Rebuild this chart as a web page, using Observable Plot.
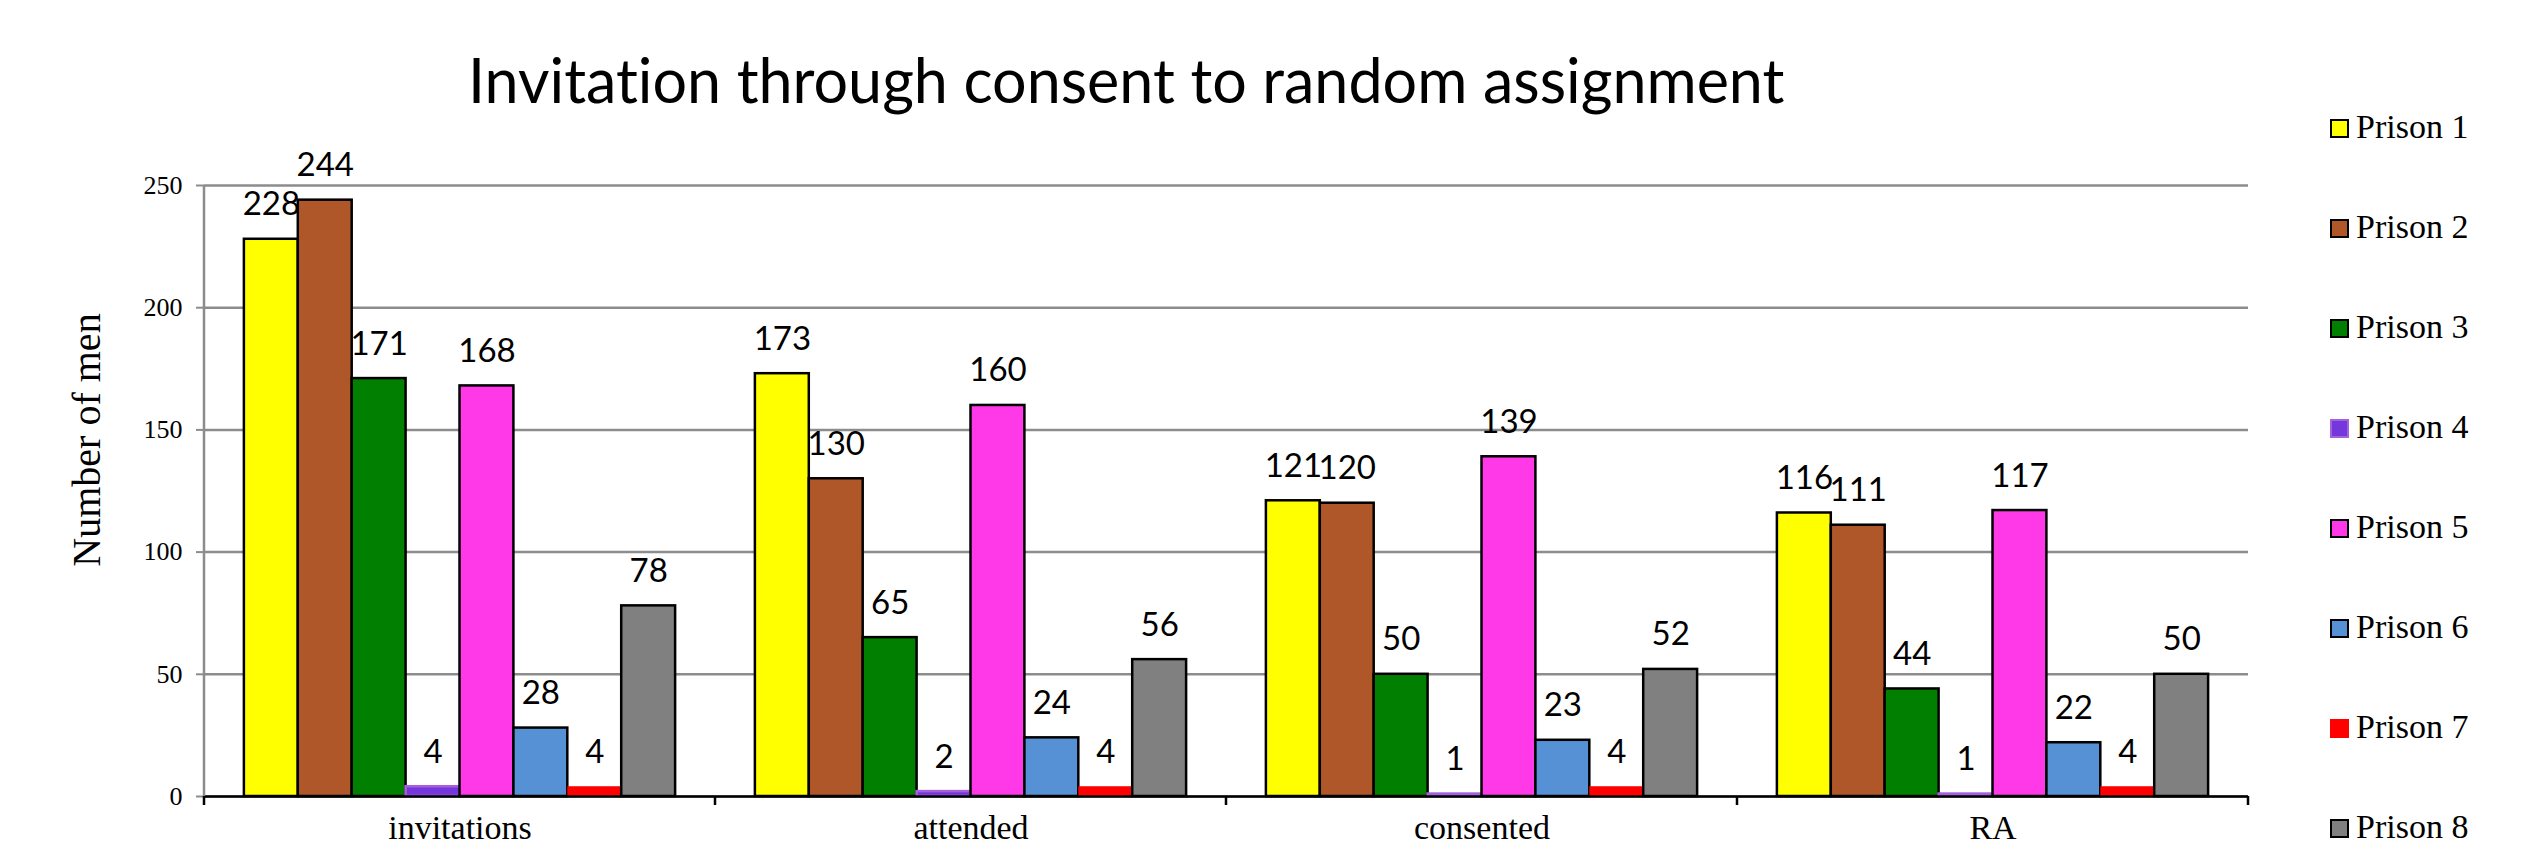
<!DOCTYPE html>
<html>
<head>
<meta charset="utf-8">
<script src="https://cdn.jsdelivr.net/npm/d3@7"></script>
<script src="https://cdn.jsdelivr.net/npm/@observablehq/plot@0.6"></script>
<style>
  html, body { margin: 0; padding: 0; background: #fff; }
  #wrap { position: relative; width: 2523px; height: 846px; background: #fff; overflow: hidden; }
  #chart { position: absolute; left: 0; top: 0; }
  #title { position: absolute; left: 468px; top: 49px; font-family: Lato, sans-serif; font-size: 61px; line-height: 1; white-space: nowrap; color: #000; font-variant-ligatures: none; font-feature-settings: "liga" 0; }
  #ylabel { position: absolute; left: 87px; top: 440px; transform: translate(-50%, -50%) rotate(-90deg); font-family: "Liberation Serif", serif; font-size: 40px; line-height: 1; white-space: nowrap; color: #000; }
  .lg { position: absolute; left: 2330px; font-family: "Liberation Serif", serif; font-size: 34px; line-height: 1; white-space: nowrap; color: #000; height: 34px; }
  .lg .sw { position: absolute; left: 0; top: 8.5px; width: 19px; height: 19px; box-sizing: border-box; border-style: solid; border-width: 2px; }
  .lg .tx { position: absolute; left: 26px; top: 0; }
</style>
</head>
<body>
<div id="wrap">
  <div id="chart"></div>
  <div id="title">Invitation through consent to random assignment</div>
  <div id="ylabel">Number of men</div>
  <div id="legend"></div>
</div>
<script>
const stages = ["invitations", "attended", "consented", "RA"];
const prisons = ["Prison 1", "Prison 2", "Prison 3", "Prison 4", "Prison 5", "Prison 6", "Prison 7", "Prison 8"];
const prisonColors = ["#ffff00", "#b0572a", "#007f00", "#7536dc", "#ff38e8", "#5690d5", "#ff0000", "#808080"];
const prisonOutlines = ["#000000", "#000000", "#000000", "#a560dc", "#000000", "#000000", "#ff0000", "#000000"];
const prison1 = [228, 173, 121, 116];
const prison2 = [244, 130, 120, 111];
const prison3 = [171, 65, 50, 44];
const prison4 = [4, 2, 1, 1];
const prison5 = [168, 160, 139, 117];
const prison6 = [28, 24, 23, 22];
const prison7 = [4, 4, 4, 4];
const prison8 = [78, 56, 52, 50];
const yTicks = [0, 50, 100, 150, 200, 250];

const series = [prison1, prison2, prison3, prison4, prison5, prison6, prison7, prison8];
const data = stages.flatMap((s, i) => prisons.map((p, j) => ({stage: s, prison: p, value: series[j][i]})));

const barMarks = prisons.map((p, j) => Plot.barY(data.filter(d => d.prison === p), {
  fx: "stage", x: "prison", y: "value", fill: "prison",
  stroke: prisonOutlines[j] === "#ff0000" ? "none" : prisonOutlines[j],
  strokeWidth: 2.5
}));

const chart = Plot.plot({
  width: 2523, height: 846,
  marginTop: 185, marginBottom: 50, marginLeft: 204, marginRight: 275,
  style: {fontFamily: "'Liberation Serif', serif", background: "white", color: "black", overflow: "visible"},
  fx: {domain: stages, padding: 0, round: false, label: null},
  x: {domain: prisons, paddingInner: 0, paddingOuter: 0.74, round: false, axis: null},
  y: {domain: [0, 250], label: null},
  color: {domain: prisons, range: prisonColors},
  marks: [
    Plot.gridY(yTicks, {stroke: "#8c8c8c", strokeOpacity: 1, strokeWidth: 2.5}),
    Plot.axisY(yTicks, {tickSize: 8, tickPadding: 14, fontSize: 26, stroke: "#8c8c8c", strokeWidth: 2, label: null}),
    Plot.axisFx({anchor: "bottom", tickSize: 0, tickPadding: 18, fontSize: 34, label: null}),
    ...barMarks,
    Plot.ruleY([0], {stroke: "black", strokeWidth: 2.5}),
    Plot.text(data, {fx: "stage", x: "prison", y: "value", text: d => String(d.value), dy: -24, lineAnchor: "bottom", fontSize: 33, fontFamily: "Lato, sans-serif", fill: "black"})
  ]
});
document.getElementById("chart").appendChild(chart);

// y-axis domain line and category boundary ticks, positioned from Plot's own scales
const fxs = chart.scale("fx");
const ys = chart.scale("y");
const y0 = ys.apply(0);
const yTop = ys.apply(250);
const edges = stages.map(s => fxs.apply(s)).concat([fxs.apply(stages[stages.length - 1]) + fxs.bandwidth]);
const svg = d3.select(chart);
svg.append("line")
  .attr("x1", edges[0]).attr("x2", edges[0]).attr("y1", yTop).attr("y2", y0)
  .attr("stroke", "#8c8c8c").attr("stroke-width", 2.5);
svg.append("g").selectAll("line").data(edges).join("line")
  .attr("x1", d => d).attr("x2", d => d).attr("y1", y0).attr("y2", y0 + 9)
  .attr("stroke", "black").attr("stroke-width", 2.5);

// legend
const legend = document.getElementById("legend");
prisons.forEach((p, i) => {
  const item = document.createElement("div");
  item.className = "lg";
  item.style.top = (110 + 100 * i) + "px";
  const sw = document.createElement("div");
  sw.className = "sw";
  sw.style.background = prisonColors[i];
  sw.style.borderColor = prisonOutlines[i];
  const tx = document.createElement("div");
  tx.className = "tx";
  tx.textContent = p;
  item.appendChild(sw);
  item.appendChild(tx);
  legend.appendChild(item);
});
</script>
</body>
</html>
